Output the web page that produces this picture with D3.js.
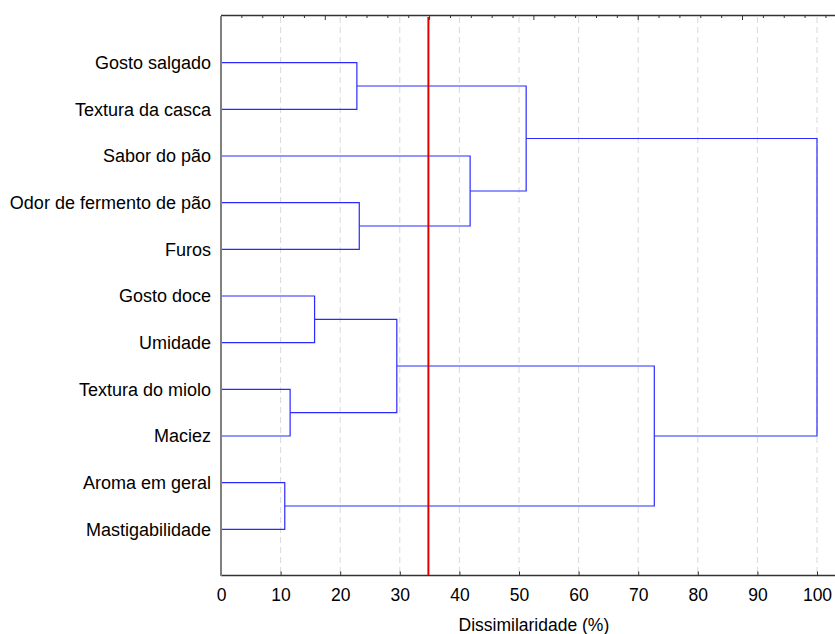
<html>
<head>
<script src="https://d3js.org/d3.v7.min.js"></script>
<style>
body { margin: 0; background: #fff; }
svg { font-family: 'Liberation Sans', Arial, sans-serif; }
</style>
</head>
<body>
<svg width="835" height="634"></svg>
<script>
// leaves, top to bottom
var leafNames = ["Gosto salgado", "Textura da casca", "Sabor do pão", "Odor de fermento de pão", "Furos",
  "Gosto doce", "Umidade", "Textura do miolo", "Maciez", "Aroma em geral", "Mastigabilidade"];

// merges: id, the two children, and the dissimilarity (%) where they join
var mergeIds = ["m1", "m2", "m3", "m4", "m5", "m6", "m7", "m8", "m9", "m10"];
var mergeChildren = [
  ["Gosto salgado", "Textura da casca"],
  ["Odor de fermento de pão", "Furos"],
  ["Sabor do pão", "m2"],
  ["m1", "m3"],
  ["Gosto doce", "Umidade"],
  ["Textura do miolo", "Maciez"],
  ["m5", "m6"],
  ["Aroma em geral", "Mastigabilidade"],
  ["m7", "m8"],
  ["m4", "m9"]
];
var mergeHeights = [22.8, 23.2, 41.8, 51.2, 15.7, 11.6, 29.5, 10.7, 72.7, 100];

var cutValue = 34.8;                       // red cut line
var xTicks = d3.range(0, 101, 10);
var xMinor = d3.range(0, 105, 2);
var xLabel = "Dissimilaridade (%)";

var svg = d3.select("svg");

// scales
var x = d3.scaleLinear().domain([0, 100]).range([221, 817]);
var xRight = x(105);
var y = d3.scalePoint().domain(leafNames).range([16, 576]).padding(1);
// the top axis carries the raw linkage scale (1 unit = 3.5 %)
var xTop = d3.scaleLinear().domain([0, 100 / 3.5]).range([221, 817]);

// grid
svg.append("g").selectAll("line")
  .data(xTicks.slice(1))
  .join("line")
  .attr("x1", function (d) { return x(d); })
  .attr("x2", function (d) { return x(d); })
  .attr("y1", 17).attr("y2", 575)
  .style("stroke", "#d9d9d9")
  .style("stroke-dasharray", "6,4");

// positions of every node
var pos = {};
leafNames.forEach(function (d) { pos[d] = { x: x(0), y: y(d) }; });
mergeIds.forEach(function (id, i) {
  var a = pos[mergeChildren[i][0]], b = pos[mergeChildren[i][1]];
  pos[id] = { x: x(mergeHeights[i]), y: (a.y + b.y) / 2 };
});

// elbows
svg.append("g").selectAll("path")
  .data(mergeIds)
  .join("path")
  .attr("d", function (id, i) {
    var a = pos[mergeChildren[i][0]], b = pos[mergeChildren[i][1]], m = pos[id];
    return "M" + a.x + "," + a.y + "H" + m.x + "V" + b.y + "H" + b.x;
  })
  .style("fill", "none")
  .style("stroke", "#2a2aff")
  .style("stroke-width", 1.2);

// top axis (no labels)
svg.append("line")
  .attr("x1", 221).attr("x2", xRight).attr("y1", 15.5).attr("y2", 15.5)
  .style("stroke", "#333").style("stroke-width", 1.5);
svg.append("g").selectAll("line")
  .data(d3.range(1, 30))
  .join("line")
  .attr("x1", function (d) { return xTop(d); })
  .attr("x2", function (d) { return xTop(d); })
  .attr("y1", 15.5)
  .attr("y2", function (d) { return d % 5 == 0 ? 20 : 18; })
  .style("stroke", "#333");

// bottom axis
var bottom = svg.append("g").attr("transform", "translate(0,575.5)");
bottom.call(d3.axisBottom(x).tickValues(xMinor).tickSize(-3).tickFormat(""));
bottom.call(d3.axisBottom(x).tickValues(xTicks).tickSize(-4).tickPadding(13));
bottom.select(".domain").remove();
bottom.selectAll("line").style("stroke", "#333");
bottom.selectAll("text").style("font-size", "17.5px").style("fill", "#000")
  .style("font-family", "'Liberation Sans', Arial, sans-serif");
svg.append("line")
  .attr("x1", 221).attr("x2", xRight).attr("y1", 575.5).attr("y2", 575.5)
  .style("stroke", "#333").style("stroke-width", 1.5);

// left axis with the leaf names
var left = svg.append("g").attr("transform", "translate(221,0)")
  .call(d3.axisLeft(y).tickSize(0).tickPadding(10));
left.select(".domain").attr("d", "M0,16V576").style("stroke", "#808080").style("stroke-width", 2);
left.selectAll("text").style("font-size", "18px").style("fill", "#000")
  .style("font-family", "'Liberation Sans', Arial, sans-serif");

// cut line
svg.append("line")
  .attr("x1", x(cutValue)).attr("x2", x(cutValue))
  .attr("y1", 17).attr("y2", 575)
  .style("stroke", "#e00000")
  .style("stroke-width", 2);

// axis title
svg.append("text")
  .attr("x", (x(0) + xRight) / 2)
  .attr("y", 631)
  .attr("text-anchor", "middle")
  .style("font-size", "17.5px")
  .text(xLabel);
</script>
</body>
</html>
